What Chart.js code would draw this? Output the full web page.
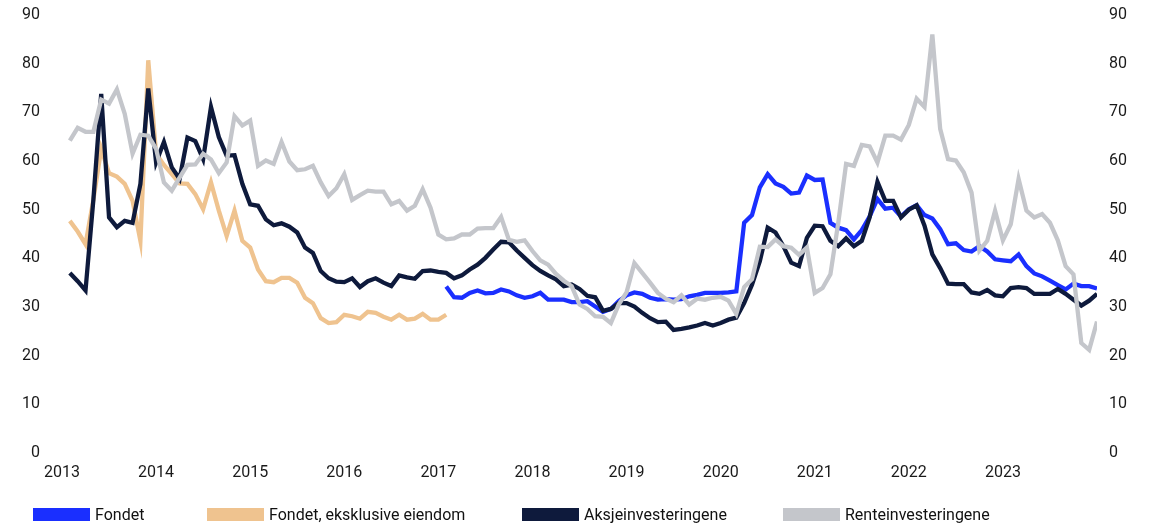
<!DOCTYPE html>
<html>
<head>
<meta charset="utf-8">
<script src="https://cdn.jsdelivr.net/npm/chart.js@4.4.1/dist/chart.umd.min.js"></script>
<style>
  html, body { margin: 0; padding: 0; background: #fff; }
  #wrap { position: relative; width: 1151px; height: 531px; }
  #legend { position: absolute; left: 0; top: 505px; width: 1151px; height: 20px; font-family: Roboto, sans-serif; font-size: 16px; color: #111; }
  #legend .item { position: absolute; top: 0; display: flex; align-items: center; white-space: nowrap; }
  #legend .box { width: 57px; height: 13px; margin-right: 5px; }
</style>
</head>
<body>
<div id="wrap">
  <canvas id="chart" width="1151" height="531"></canvas>
  <div id="legend"></div>
</div>
<script>
const years = ['2013', '2014', '2015', '2016', '2017', '2018', '2019', '2020', '2021', '2022', '2023'];

// monthly values, month 1 = end of Jan 2013
const fondetStart = 49;
const fondet = [34.2, 32.0, 31.9, 32.9, 33.4, 32.8, 32.9, 33.6, 33.2, 32.4, 31.9, 32.2,
  32.9, 31.5, 31.5, 31.5, 31.0, 31.0, 31.2, 30.1, 29.0, 29.6, 31.2, 32.4,
  33.0, 32.7, 31.9, 31.5, 31.6, 31.5, 31.6, 32.2, 32.5, 32.9, 32.9, 32.9,
  33.0, 33.2, 47.3, 48.9, 54.6, 57.3, 55.4, 54.7, 53.3, 53.5, 57.0, 56.1,
  56.2, 47.3, 46.3, 45.8, 43.9, 45.8, 48.6, 52.2, 50.2, 50.4, 48.6, 50.1,
  50.9, 48.9, 48.2, 46.0, 42.9, 43.1, 41.7, 41.4, 42.5, 41.4, 39.8, 39.6,
  39.4, 40.8, 38.4, 36.9, 36.3, 35.4, 34.5, 33.6, 34.8, 34.3, 34.3, 33.8];

const utenEiendomStart = 1;
const utenEiendom = [47.7, 45.5, 42.9, 52.0, 62.5, 57.5, 56.8, 55.3, 51.8, 43.6, 80.7, 61.5,
  59.2, 57.3, 55.4, 55.3, 53.2, 50.1, 55.6, 49.8, 44.6, 49.8, 43.6, 42.2,
  37.7, 35.3, 35.1, 36.0, 36.0, 35.0, 31.9, 30.8, 27.7, 26.7, 26.9, 28.4,
  28.1, 27.6, 29.0, 28.8, 28.0, 27.4, 28.4, 27.4, 27.6, 28.6, 27.4, 27.4, 28.4];

const aksjeStart = 1;
const aksje = [37.0, 35.3, 33.4, 52.0, 73.8, 48.4, 46.4, 47.7, 47.3, 55.3, 74.9, 59.7,
  63.9, 58.7, 56.3, 64.8, 64.1, 60.4, 71.1, 64.9, 61.1, 61.2, 55.3, 51.1,
  50.8, 48.0, 46.8, 47.2, 46.5, 45.3, 42.2, 41.1, 37.4, 35.9, 35.2, 35.1,
  35.9, 34.1, 35.3, 35.9, 35.0, 34.3, 36.5, 36.1, 35.8, 37.4, 37.5, 37.2,
  37.0, 35.9, 36.5, 37.7, 38.7, 40.1, 41.8, 43.4, 43.3, 41.6, 40.1, 38.6,
  37.4, 36.5, 35.7, 34.3, 34.6, 33.7, 32.3, 32.0, 29.2, 29.6, 30.8, 30.8,
  30.1, 28.8, 27.7, 26.9, 27.0, 25.3, 25.5, 25.8, 26.2, 26.7, 26.2, 26.7,
  27.4, 27.8, 30.8, 34.6, 39.4, 46.3, 45.3, 42.5, 39.1, 38.4, 44.2, 46.7,
  46.6, 43.6, 42.5, 44.1, 42.5, 43.6, 48.4, 55.7, 51.8, 51.8, 48.4, 50.0,
  50.9, 46.7, 40.8, 38.0, 34.8, 34.7, 34.7, 33.0, 32.7, 33.5, 32.4, 32.2,
  33.9, 34.1, 33.9, 32.7, 32.7, 32.7, 33.7, 32.7, 31.5, 30.3, 31.3, 32.7];

const renteStart = 1;
const rente = [64.2, 66.8, 66.0, 66.0, 72.6, 71.8, 74.7, 69.7, 61.5, 65.4, 65.2, 62.5,
  55.6, 53.9, 56.6, 59.2, 59.3, 61.5, 60.3, 57.5, 59.7, 69.2, 67.3, 68.3,
  59.0, 60.1, 59.4, 63.9, 59.9, 58.1, 58.3, 59.0, 55.6, 52.8, 54.4, 57.3,
  52.0, 53.0, 53.9, 53.7, 53.7, 51.1, 51.8, 49.8, 50.8, 54.2, 50.4, 44.9,
  43.9, 44.1, 44.9, 44.9, 46.1, 46.2, 46.2, 48.5, 43.8, 43.4, 43.7, 41.5,
  39.6, 38.7, 36.8, 35.4, 34.3, 30.5, 29.6, 28.1, 28.0, 26.7, 30.5, 33.0,
  39.0, 37.0, 35.0, 32.9, 31.7, 31.0, 32.4, 30.5, 31.7, 31.5, 31.9, 32.1,
  31.3, 28.6, 34.1, 35.7, 42.4, 42.3, 43.9, 42.5, 42.2, 40.7, 42.2, 32.9,
  33.9, 36.7, 47.3, 59.4, 59.0, 63.3, 63.0, 59.7, 65.2, 65.2, 64.4, 67.4,
  72.8, 71.1, 86.0, 66.6, 60.4, 60.1, 57.7, 53.5, 41.6, 43.6, 49.8, 43.7,
  47.0, 56.3, 49.8, 48.4, 49.1, 47.3, 43.7, 38.4, 36.7, 22.6, 21.2, 27.0];

const yTicks = [0, 10, 20, 30, 40, 50, 60, 70, 80, 90];

const toPoints = (values, start) => values.map((v, i) => ({ x: start + i, y: v }));

const series = [
  { label: 'Fondet', data: toPoints(fondet, fondetStart), color: '#1a2fff', order: 2, legendX: 33 },
  { label: 'Fondet, eksklusive eiendom', data: toPoints(utenEiendom, utenEiendomStart), color: '#efc38f', order: 3, legendX: 207 },
  { label: 'Aksjeinvesteringene', data: toPoints(aksje, aksjeStart), color: '#0e1a3c', order: 1, legendX: 522 },
  { label: 'Renteinvesteringene', data: toPoints(rente, renteStart), color: '#c4c6cb', order: 0, legendX: 783 }
];

const font = { family: 'Roboto, sans-serif', size: 16 };
const tickColor = '#1a1a1a';

// y axes: fixed width, no extra label padding at top/bottom
const fitY = (width) => (scale) => {
  scale.width = width;
  scale.paddingTop = 0;
  scale.paddingBottom = 0;
};

new Chart(document.getElementById('chart').getContext('2d'), {
  type: 'line',
  data: {
    datasets: series.map(s => ({
      label: s.label,
      data: s.data,
      borderColor: s.color,
      backgroundColor: s.color,
      borderWidth: 4.3,
      pointRadius: 0,
      tension: 0,
      fill: false,
      order: s.order
    }))
  },
  options: {
    responsive: false,
    animation: false,
    layout: { padding: { top: 15, bottom: 38, left: 0, right: 0 } },
    plugins: { legend: { display: false }, tooltip: { enabled: false } },
    scales: {
      x: {
        type: 'linear',
        min: 0,
        max: 132,
        grid: { display: false },
        border: { display: false },
        afterFit: (scale) => { scale.height = 40; },
        afterBuildTicks: (scale) => {
          scale.ticks = years.map((y, i) => ({ value: i * 12 }));
        },
        ticks: {
          color: tickColor,
          font: font,
          padding: 2,
          maxRotation: 0,
          autoSkip: false,
          callback: (v) => years[Math.round(v / 12)]
        }
      },
      y: {
        position: 'left',
        min: 0,
        max: 90,
        grid: { display: false },
        border: { display: false },
        afterFit: fitY(62),
        afterBuildTicks: (scale) => { scale.ticks = yTicks.map(v => ({ value: v })); },
        ticks: { color: tickColor, font: font, padding: 14 }
      },
      y2: {
        position: 'right',
        min: 0,
        max: 90,
        grid: { display: false },
        border: { display: false },
        afterFit: fitY(54),
        afterBuildTicks: (scale) => { scale.ticks = yTicks.map(v => ({ value: v })); },
        ticks: { color: tickColor, font: font, padding: 4 }
      }
    }
  }
});

// legend under the chart
const legend = document.getElementById('legend');
series.forEach(s => {
  const item = document.createElement('div');
  item.className = 'item';
  item.style.left = s.legendX + 'px';
  const box = document.createElement('span');
  box.className = 'box';
  box.style.background = s.color;
  const text = document.createElement('span');
  text.textContent = s.label;
  item.appendChild(box);
  item.appendChild(text);
  legend.appendChild(item);
});
</script>
</body>
</html>
